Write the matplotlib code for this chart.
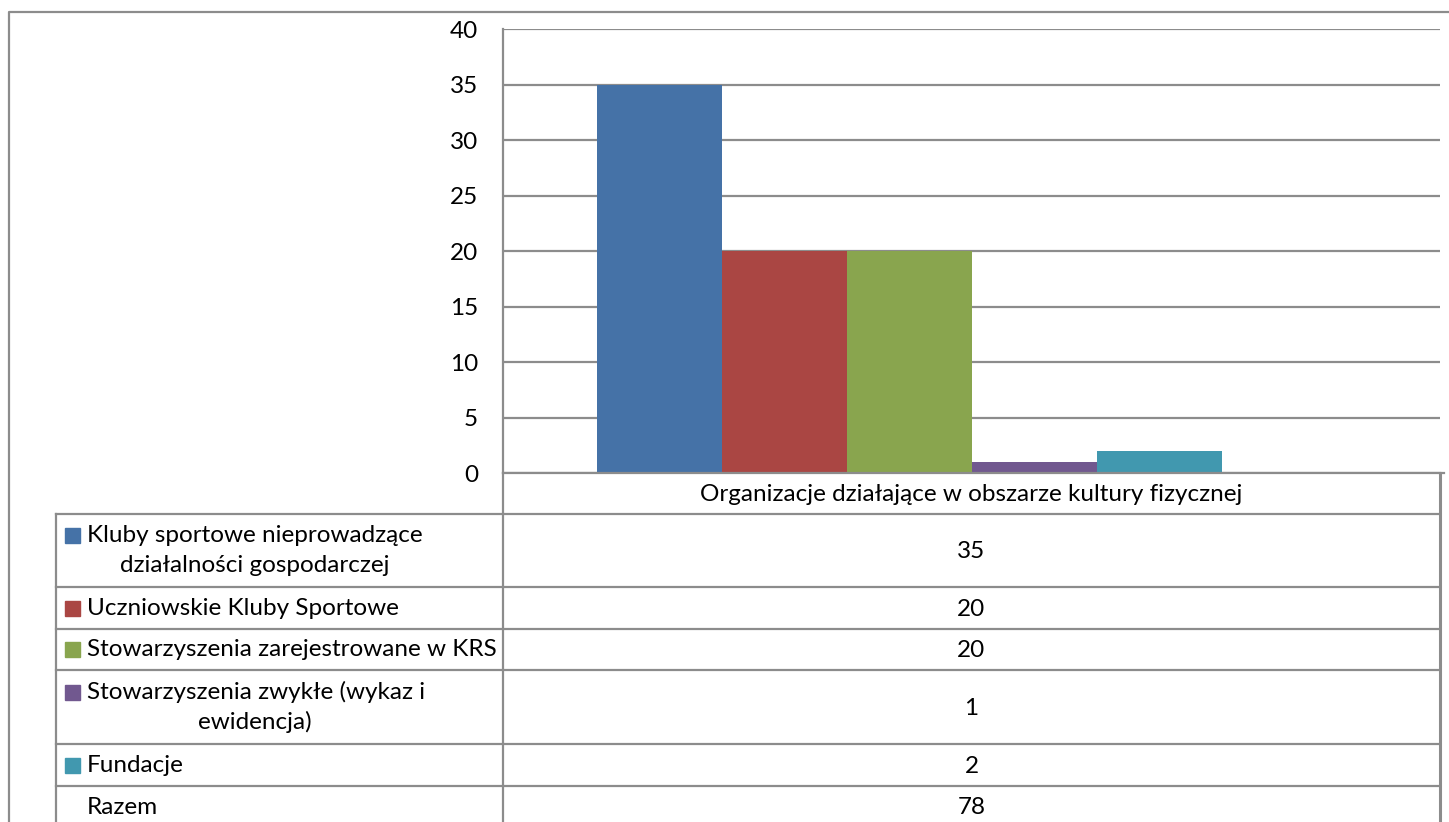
import numpy as np
import matplotlib.pyplot as plt

plt.rcParams['font.family'] = ['Lato', 'DejaVu Sans']

# data
category = 'Organizacje działające w obszarze kultury fizycznej'
series = ['Kluby sportowe nieprowadzące\ndziałalności gospodarczej',
          'Uczniowskie Kluby Sportowe',
          'Stowarzyszenia zarejestrowane w KRS',
          'Stowarzyszenia zwykłe (wykaz i\newidencja)',
          'Fundacje']
values = [35, 20, 20, 1, 2]
total_label = 'Razem'
total = 78
colors = ['#4572A7', '#AA4643', '#89A54E', '#71588F', '#4198AF']

W, H = 1449, 822
fig = plt.figure(figsize=(W / 100, H / 100), dpi=100)

grid_c = '#8c8c8c'
fs = 17.5

# chart area (pixel layout from the reference)
ax = fig.add_axes([503 / W, 1 - 473 / H, (1440 - 503) / W, (473 - 29.5) / H])
x = np.arange(len(values)) - 2
ax.bar(x, values, width=1.0, color=colors, zorder=3)
ax.set_xlim(-3.252, 4.244)
ax.set_ylim(0, 40)
ax.set_yticks(range(0, 41, 5))
ax.set_xticks([])
ax.tick_params(axis='y', length=0, pad=18, labelsize=fs)
ax.yaxis.grid(True, color=grid_c, lw=1.6)
for s in ['top', 'right']:
    ax.spines[s].set_visible(False)
for s in ['left', 'bottom']:
    ax.spines[s].set_color(grid_c)
    ax.spines[s].set_linewidth(1.6)
ax.spines['bottom'].set_zorder(4)

# overlay in pixel coordinates for the data table and frame
ov = fig.add_axes([0, 0, 1, 1], zorder=-1)
ov.set_xlim(0, W)
ov.set_ylim(H, 0)
ov.axis('off')

# outer chart frame
ov.plot([9, 9, W + 5], [H + 5, 12.5, 12.5], color=grid_c, lw=1.6)

row_edges = [514, 587, 629, 670, 744, 786, 830]
for y in row_edges[:-1]:
    ov.plot([56, 1440], [y, y], color=grid_c, lw=1.6)
ov.plot([1440, 1444], [473, 473], color=grid_c, lw=1.6)
ov.plot([56, 56], [514, H + 5], color=grid_c, lw=1.6)
ov.plot([503, 503], [473, H + 5], color=grid_c, lw=1.6)
ov.plot([1440, 1440], [473, H + 5], color=grid_c, lw=2.2)

ov.text(971.5, 494, category, ha='center', va='center', fontsize=fs)

for i, (name, val, c) in enumerate(zip(series, values, colors)):
    y0, y1 = row_edges[i], row_edges[i + 1]
    yc = (y0 + y1) / 2
    if '\n' in name:
        first, second = name.split('\n')
        ky = yc - 15
        ov.text(87, ky, first, ha='left', va='center', fontsize=fs)
        ov.text(255, yc + 15, second, ha='center', va='center', fontsize=fs)
    else:
        ky = yc
        ov.text(87, yc, name, ha='left', va='center', fontsize=fs)
    ov.add_patch(plt.Rectangle((65, ky - 7.5), 15, 15, color=c))
    ov.text(971.5, yc + 1, str(val), ha='center', va='center', fontsize=fs)

yc = (row_edges[-2] + row_edges[-1]) / 2 - 1
ov.text(87, yc, total_label, ha='left', va='center', fontsize=fs)
ov.text(971.5, yc, str(total), ha='center', va='center', fontsize=fs)

fig.savefig('out.png', dpi=100)
